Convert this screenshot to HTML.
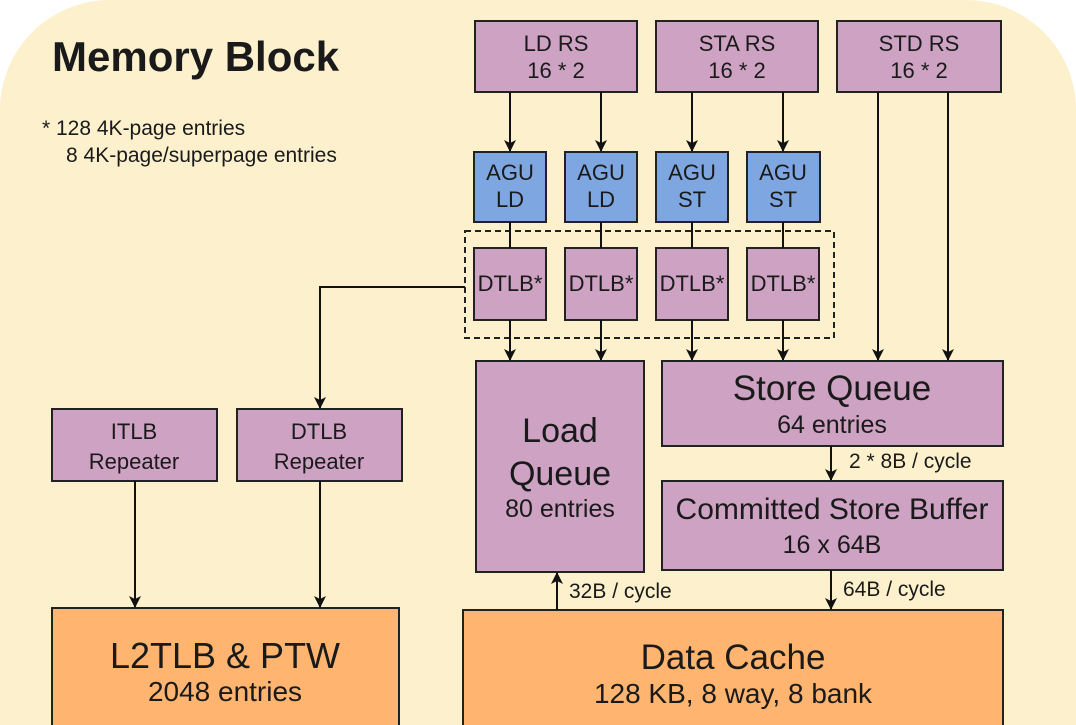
<!DOCTYPE html>
<html><head><meta charset="utf-8"><style>
body{margin:0;width:1076px;height:725px;overflow:hidden;background:#fff}
svg{display:block}
text{font-family:"Liberation Sans",sans-serif;fill:#1a1a1a}
</style></head><body>
<svg width="1076" height="725" viewBox="0 0 1076 725">
<defs>
<marker id="d" viewBox="0 0 12 12" markerWidth="12" markerHeight="12" refX="11" refY="6" orient="auto" markerUnits="userSpaceOnUse"><path d="M0,0 L12,6 L0,12 L3,6 Z" fill="#111"/></marker></defs>
<path d="M0,725 V110 A110,110 0 0 1 110,0 H966 A110,110 0 0 1 1076,110 V725 Z" fill="#fdf0cc"/>
<text x="52" y="71" font-size="42" font-weight="bold" fill="#111">Memory Block</text>
<text x="42" y="135" font-size="21">*  128 4K-page entries</text>
<text x="66" y="162" font-size="21">8 4K-page/superpage entries</text>
<g stroke="#222" stroke-width="2" fill="#cda2c3">
<rect x="475" y="21" width="162" height="71"/><rect x="656" y="21" width="162" height="71"/><rect x="837" y="21" width="164" height="71"/>
<rect x="474" y="152" width="72" height="70" fill="#7ea6e0"/><rect x="565" y="152" width="72" height="70" fill="#7ea6e0"/><rect x="656" y="152" width="72" height="70" fill="#7ea6e0"/><rect x="747" y="152" width="73" height="70" fill="#7ea6e0"/>
<rect x="474" y="248" width="72" height="72"/><rect x="565" y="248" width="72" height="72"/><rect x="656" y="248" width="72" height="72"/><rect x="747" y="248" width="72" height="72"/>
<rect x="476" y="361" width="168" height="211"/><rect x="662" y="361" width="341" height="85"/><rect x="662" y="481" width="341" height="89"/>
<rect x="52" y="409" width="165" height="72"/><rect x="237" y="409" width="165" height="72"/>
<rect x="52" y="608" width="347" height="120" fill="#ffb570"/><rect x="463" y="610" width="540" height="118" fill="#ffb570"/>
</g>
<rect x="465" y="231" width="369" height="107" fill="none" stroke="#222" stroke-width="2" stroke-dasharray="6,4"/>
<g stroke="#111" stroke-width="2" fill="none" marker-end="url(#d)">
<path d="M510 92V151"/><path d="M601 92V151"/><path d="M692 92V151"/><path d="M783 92V151"/>
<path d="M510 320V360"/><path d="M601 320V360"/><path d="M692 320V360"/><path d="M783 320V360"/>
<path d="M878 92V360"/><path d="M948 92V360"/>
<path d="M465 287H320V408"/>
<path d="M135 481V607"/><path d="M320 481V607"/>
<path d="M831 446V480"/><path d="M831 570V609"/><path d="M557 610V573"/>
</g>
<g stroke="#111" stroke-width="2"><path d="M510 222V248M601 222V248M692 222V248M783 222V248"/></g>
<g font-size="22" text-anchor="middle">
<text x="556" y="51">LD RS</text><text x="556" y="78">16 * 2</text>
<text x="737" y="51">STA RS</text><text x="737" y="78">16 * 2</text>
<text x="919" y="51">STD RS</text><text x="919" y="78">16 * 2</text>
<text x="510" y="180">AGU</text><text x="510" y="207">LD</text>
<text x="601" y="180">AGU</text><text x="601" y="207">LD</text>
<text x="692" y="180">AGU</text><text x="692" y="207">ST</text>
<text x="783" y="180">AGU</text><text x="783" y="207">ST</text>
<text x="510" y="291">DTLB*</text><text x="601" y="291">DTLB*</text><text x="692" y="291">DTLB*</text><text x="783" y="291">DTLB*</text>
<text x="134" y="439">ITLB</text><text x="134" y="469">Repeater</text>
<text x="319" y="439">DTLB</text><text x="319" y="469">Repeater</text>
<text x="560" y="442" font-size="34">Load</text><text x="560" y="485" font-size="34">Queue</text><text x="560" y="517" font-size="25">80 entries</text>
<text x="832" y="400" font-size="35">Store Queue</text><text x="832" y="433" font-size="25">64 entries</text>
<text x="832" y="519" font-size="30">Committed Store Buffer</text><text x="832" y="553" font-size="25">16 x 64B</text>
<text x="225" y="668" font-size="36">L2TLB &amp; PTW</text><text x="225" y="701" font-size="28">2048 entries</text>
<text x="733" y="669" font-size="35">Data Cache</text><text x="733" y="703" font-size="28">128 KB, 8 way, 8 bank</text>
</g>
<g font-size="21"><text x="849" y="468">2 * 8B / cycle</text><text x="843" y="596">64B / cycle</text><text x="569" y="598">32B / cycle</text></g>
</svg>
</body></html>
